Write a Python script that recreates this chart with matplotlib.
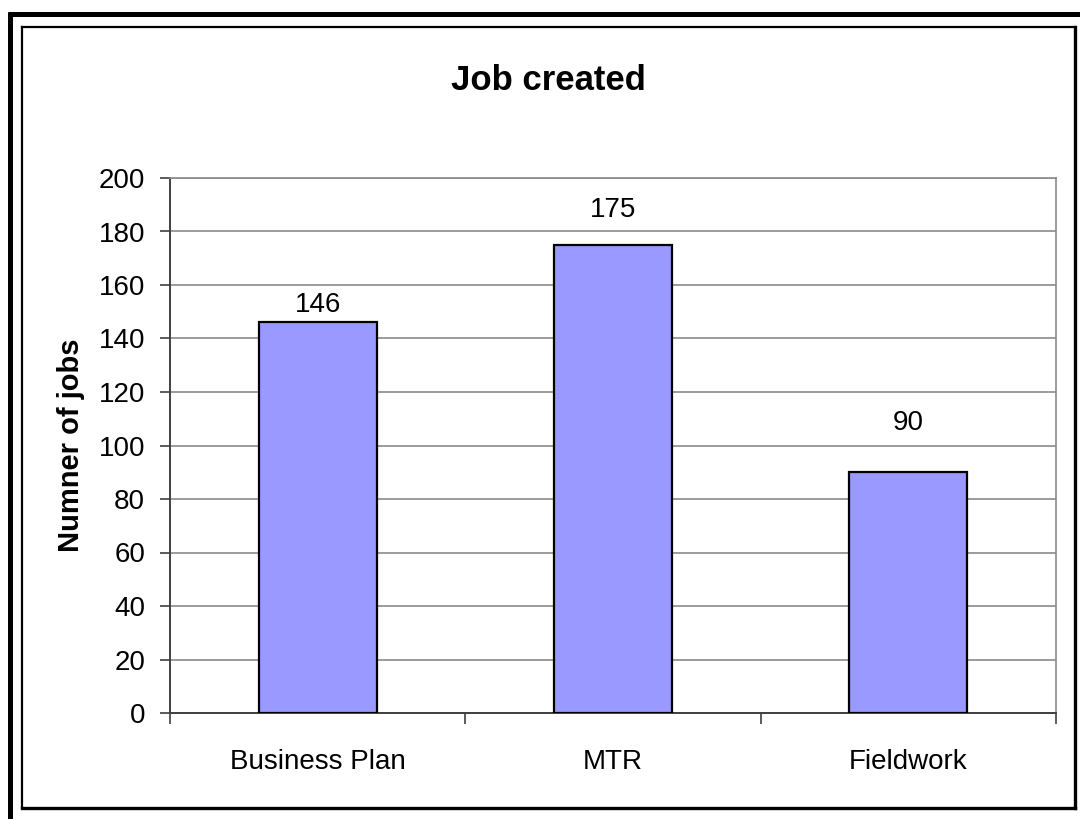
import matplotlib
matplotlib.use("Agg")
import matplotlib.pyplot as plt
from matplotlib.lines import Line2D
import numpy as np

plt.rcParams['font.family'] = ['Liberation Sans', 'DejaVu Sans']

categories = ['Business Plan', 'MTR', 'Fieldwork']
jobs = [146, 175, 90]
label_pad = [3.5, 16, 26]  # points above each bar

W, H = 1080, 819
fig = plt.figure(figsize=(W / 100, H / 100), dpi=100)


def px(x, y):
    return x / W, 1 - y / H


# frame around the chart: heavy outer edge on left/top, inner box with shadowed right/bottom
fig.add_artist(Line2D([10 / W, 10 / W], [0, 1 - 12 / H], color='black', lw=3.6,
                      solid_capstyle='butt', transform=fig.transFigure))
fig.add_artist(Line2D([8 / W, 1], [1 - 14 / H, 1 - 14 / H], color='black', lw=3.6,
                      solid_capstyle='butt', transform=fig.transFigure))
x0, y0 = px(22, 27)
x1, y1 = px(1075, 808)
fig.add_artist(Line2D([x0, x0], [y0, y1], color='black', lw=1.6, transform=fig.transFigure))
fig.add_artist(Line2D([x0, x1], [y0, y0], color='black', lw=1.6, transform=fig.transFigure))
fig.add_artist(Line2D([x1, x1], [y0, y1], color='black', lw=2.4, transform=fig.transFigure))
fig.add_artist(Line2D([x0, x1], [y1, y1], color='black', lw=2.4, transform=fig.transFigure))

ax = fig.add_axes([170 / W, 1 - 713 / H, (1056 - 170) / W, (713 - 178) / H])

x = np.arange(len(categories))
bars = ax.bar(x, jobs, width=0.4, color='#9999ff', edgecolor='black', linewidth=1.6, zorder=3)
for b, v, p in zip(bars, jobs, label_pad):
    ax.annotate(str(v), (b.get_x() + b.get_width() / 2, v), xytext=(0, p),
                textcoords='offset points', ha='center', va='bottom', fontsize=20)

ax.set_xlim(-0.5, 2.5)
ax.set_ylim(0, 200)
ax.set_yticks(np.arange(0, 201, 20))
ax.yaxis.grid(True, color='#8a8a8a', lw=1.2, zorder=0)
ax.tick_params(axis='y', labelsize=20, length=7, width=1.2, color='#404040', pad=11)

# ticks between categories, labels at the centres
ax.set_xticks([-0.5, 0.5, 1.5, 2.5])
ax.set_xticklabels([])
ax.set_xticks(x, minor=True)
ax.set_xticklabels(categories, minor=True)
ax.tick_params(axis='x', which='major', length=8, width=1.2, color='#404040')
ax.tick_params(axis='x', which='minor', length=0, labelsize=20, pad=26)

for s in ['top', 'right']:
    ax.spines[s].set_color('#8a8a8a')
    ax.spines[s].set_linewidth(1.2)
for s in ['left', 'bottom']:
    ax.spines[s].set_color('#404040')
    ax.spines[s].set_linewidth(1.4)

ax.set_ylabel('Numner of jobs', fontsize=21, fontweight='bold', labelpad=10)
fig.text(548 / W, 1 - 80 / H, 'Job created', ha='center', va='center',
         fontsize=25, fontweight='bold')

fig.savefig('out.png', dpi=100)
